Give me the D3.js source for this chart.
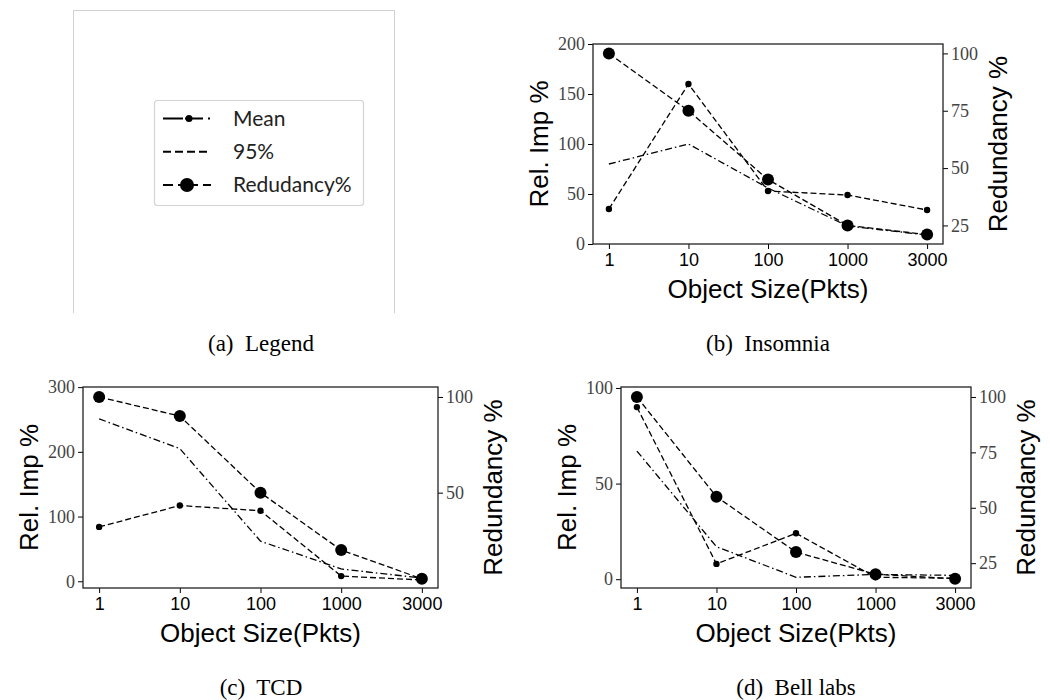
<!DOCTYPE html>
<html>
<head>
<meta charset="utf-8">
<script src="https://cdn.jsdelivr.net/npm/d3@7"></script>
<style>
  body { margin: 0; background: #fff; }
</style>
</head>
<body>
<div id="chart"></div>
<script>
// object sizes (x categories)
const sizes = ["1", "10", "100", "1000", "3000"];

// (b) Insomnia
const insomniaMean = [80, 100, 56, 18, 9];
const insomniaP95 = [35, 160, 53, 49, 34];
const insomniaRed = [100, 75, 45, 25, 21];
const insomniaLeftTicks = [0, 50, 100, 150, 200];
const insomniaRightTicks = [25, 50, 75, 100];

// (c) TCD
const tcdMean = [251, 205, 62, 19, 5];
const tcdP95 = [84, 117, 109, 8, 2];
const tcdRed = [100, 90, 50, 20, 5];
const tcdLeftTicks = [0, 100, 200, 300];
const tcdRightTicks = [50, 100];

// (d) Bell labs
const bellMean = [67, 17, 1, 2.5, 2];
const bellP95 = [90, 8, 24, 1, 0.5];
const bellRed = [100, 55, 30, 20, 18];
const bellLeftTicks = [0, 50, 100];
const bellRightTicks = [25, 50, 75, 100];

const legendLabels = ["Mean", "95%", "Redudancy%"];

const W = 1050, H = 700;
const dashed = "6,3";
const dashDot = "7,3,1.5,3";
const serif = "'Liberation Serif', serif";
const sans = "'Liberation Sans', sans-serif";

const svg = d3.select("#chart")
    .append("svg")
    .attr("width", W)
    .attr("height", H);

// panel layout (frame boxes and axis limits)
const panels = [
    {mean: insomniaMean, p95: insomniaP95, red: insomniaRed,
     lt: insomniaLeftTicks, rt: insomniaRightTicks,
     box: [593, 44, 943, 244], ly: [0, 200], ry: [16.9, 104.1],
     caption: "(b)  Insomnia", cx: 768},
    {mean: tcdMean, p95: tcdP95, red: tcdRed,
     lt: tcdLeftTicks, rt: tcdRightTicks,
     box: [83, 387, 438, 588], ly: [-10.4, 300.2], ry: [0.2, 105.2],
     caption: "(c)  TCD", cx: 261},
    {mean: bellMean, p95: bellP95, red: bellRed,
     lt: bellLeftTicks, rt: bellRightTicks,
     box: [621, 387, 971, 588], ly: [-4.6, 100.5], ry: [13.8, 104.5],
     caption: "(d)  Bell labs", cx: 796}
];

panels.forEach(p => drawPanel(p));
drawLegendPanel();

function drawPanel(p) {
    const [x0, y0, x1, y1] = p.box;
    const g = svg.append("g");

    const xScale = d3.scalePoint().domain(sizes).range([x0, x1]).padding(0.2);
    const yLeft = d3.scaleLinear().domain(p.ly).range([y1, y0]);
    const yRight = d3.scaleLinear().domain(p.ry).range([y1, y0]);

    // axes
    const xAxis = g.append("g")
        .attr("transform", `translate(0,${y1})`)
        .call(d3.axisBottom(xScale).tickSize(5).tickSizeOuter(0).tickPadding(4));
    xAxis.selectAll("text").attr("font-family", sans).attr("font-size", 18).attr("fill", "#000");

    const lAxis = g.append("g")
        .attr("transform", `translate(${x0},0)`)
        .call(d3.axisLeft(yLeft).tickValues(p.lt).tickSize(5).tickSizeOuter(0).tickPadding(3));
    lAxis.selectAll("text").attr("font-family", serif).attr("font-size", 18).attr("fill", "#444");

    const rAxis = g.append("g")
        .attr("transform", `translate(${x1},0)`)
        .call(d3.axisRight(yRight).tickValues(p.rt).tickSize(5).tickSizeOuter(0).tickPadding(3));
    rAxis.selectAll("text").attr("font-family", serif).attr("font-size", 18).attr("fill", "#444");

    g.selectAll(".domain").remove();
    g.selectAll(".tick line").attr("stroke", "#000").attr("stroke-width", 1);

    // frame
    g.append("rect")
        .attr("x", x0).attr("y", y0)
        .attr("width", x1 - x0).attr("height", y1 - y0)
        .attr("fill", "none").attr("stroke", "#222").attr("stroke-width", 1.3);

    const lineL = d3.line().x((d, i) => xScale(sizes[i])).y(d => yLeft(d));
    const lineR = d3.line().x((d, i) => xScale(sizes[i])).y(d => yRight(d));

    g.append("path").attr("d", lineL(p.mean))
        .attr("fill", "none").attr("stroke", "#000").attr("stroke-width", 1.3)
        .attr("stroke-dasharray", dashDot);
    g.append("path").attr("d", lineL(p.p95))
        .attr("fill", "none").attr("stroke", "#000").attr("stroke-width", 1.3)
        .attr("stroke-dasharray", dashed);
    g.append("path").attr("d", lineR(p.red))
        .attr("fill", "none").attr("stroke", "#000").attr("stroke-width", 1.3)
        .attr("stroke-dasharray", dashed);

    g.selectAll(".small")
        .data(p.p95)
        .join("circle")
        .attr("cx", (d, i) => xScale(sizes[i]))
        .attr("cy", d => yLeft(d))
        .attr("r", 3.2)
        .attr("fill", "#000");

    g.selectAll(".big")
        .data(p.red)
        .join("circle")
        .attr("cx", (d, i) => xScale(sizes[i]))
        .attr("cy", d => yRight(d))
        .attr("r", 6)
        .attr("fill", "#000");

    // labels
    const my = (y0 + y1) / 2;
    g.append("text")
        .attr("transform", `translate(${x0 - 54},${my}) rotate(-90)`)
        .attr("text-anchor", "middle").attr("dy", "0.35em")
        .attr("font-family", sans).attr("font-size", 26)
        .text("Rel. Imp %");
    g.append("text")
        .attr("transform", `translate(${x1 + 55},${my}) rotate(-90)`)
        .attr("text-anchor", "middle").attr("dy", "0.35em")
        .attr("font-family", sans).attr("font-size", 26)
        .text("Redundancy %");
    g.append("text")
        .attr("x", (x0 + x1) / 2).attr("y", y1 + 45)
        .attr("text-anchor", "middle").attr("dy", "0.35em")
        .attr("font-family", sans).attr("font-size", 26)
        .text("Object Size(Pkts)");
    g.append("text")
        .attr("x", p.cx).attr("y", y1 + 99)
        .attr("text-anchor", "middle").attr("dy", "0.35em")
        .attr("font-family", serif).attr("font-size", 23)
        .style("white-space", "pre")
        .text(p.caption);
}

function drawLegendPanel() {
    const g = svg.append("g");
    // cropped image border
    g.append("path")
        .attr("d", "M73.5,313V10.5H394.5V313")
        .attr("fill", "none").attr("stroke", "#d0d0d0").attr("stroke-width", 1);

    g.append("rect")
        .attr("x", 154.5).attr("y", 100.5)
        .attr("width", 209).attr("height", 105)
        .attr("rx", 3)
        .attr("fill", "#fff").attr("stroke", "#d3d3d3").attr("stroke-width", 1.2);

    const rowY = d3.scalePoint().domain(legendLabels).range([118.5, 185]);
    const hx0 = 163, hx1 = 211;

    // Mean: dash-dot with small marker
    g.append("line")
        .attr("x1", hx0).attr("x2", hx1)
        .attr("y1", rowY("Mean")).attr("y2", rowY("Mean"))
        .attr("stroke", "#000").attr("stroke-width", 1.8)
        .attr("stroke-dasharray", "20,2,18,5,2,10");
    g.append("circle").attr("cx", 189).attr("cy", rowY("Mean")).attr("r", 3.5).attr("fill", "#000");

    // 95%: dashed
    g.append("line")
        .attr("x1", hx0).attr("x2", hx1)
        .attr("y1", rowY("95%")).attr("y2", rowY("95%"))
        .attr("stroke", "#000").attr("stroke-width", 1.8)
        .attr("stroke-dasharray", "8,4");

    // Redundancy: dashed with big marker
    g.append("line")
        .attr("x1", hx0).attr("x2", hx1)
        .attr("y1", rowY("Redudancy%")).attr("y2", rowY("Redudancy%"))
        .attr("stroke", "#000").attr("stroke-width", 1.8)
        .attr("stroke-dasharray", "10,5,20,5");
    g.append("circle").attr("cx", 187).attr("cy", rowY("Redudancy%")).attr("r", 7).attr("fill", "#000");

    g.selectAll(".lab")
        .data(legendLabels)
        .join("text")
        .attr("x", 233)
        .attr("y", d => rowY(d))
        .attr("dy", "0.35em")
        .attr("font-family", "Lato, sans-serif")
        .attr("font-size", 21)
        .attr("fill", "#222")
        .text(d => d);

    g.append("text")
        .attr("x", 261).attr("y", 343)
        .attr("text-anchor", "middle").attr("dy", "0.35em")
        .attr("font-family", serif).attr("font-size", 23)
        .style("white-space", "pre")
        .text("(a)  Legend");
}
</script>
</body>
</html>
